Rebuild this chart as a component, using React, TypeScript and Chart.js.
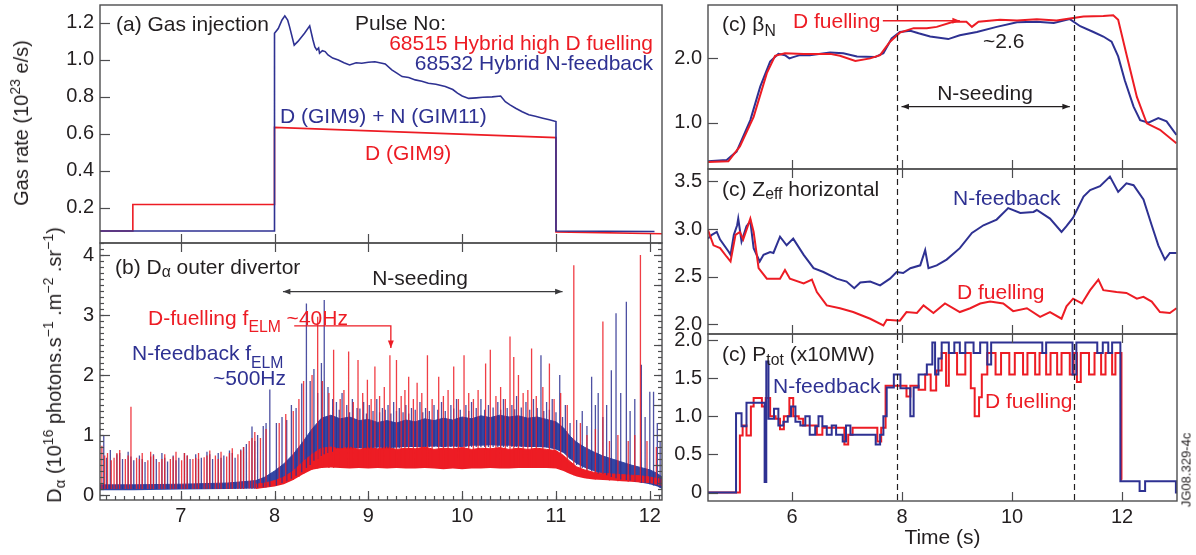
import React, { useEffect, useRef } from "react";
import { Chart, registerables } from "chart.js";
Chart.register(...registerables);

const RED = "#ED1C24";
const BLUE = "#2E3192";
const BAND_BLUE = "#3446A4";
const INK = "#231F20";
const FRAME = "#4D4D4F";
const FONT = "'Liberation Sans', Arial, Helvetica, sans-serif";

type Pt = [number, number];
type Tri = [number, number, number];

// ================= (a) Gas injection =================
const leftXTicks = [7, 8, 9, 10, 11, 12];
const gasYTicks = [0.2, 0.4, 0.6, 0.8, 1.0, 1.2];
const gasD: Pt[] = [
  [6.14, 0.075], [6.49, 0.075], [6.49, 0.218], [8.0, 0.218], [8.0, 0.635],
  [11.0, 0.58], [11.0, 0.07], [12.13, 0.06],
];
const gasN: Pt[] = [
  [6.14, 0.075], [8.0, 0.075], [8.0, 1.144], [8.04, 1.17], [8.08, 1.216], [8.11, 1.238],
  [8.14, 1.216], [8.16, 1.18], [8.21, 1.08], [8.25, 1.1], [8.32, 1.144], [8.375, 1.184],
  [8.41, 1.108], [8.43, 1.07], [8.45, 1.054], [8.47, 1.065], [8.48, 1.036], [8.51, 1.05],
  [8.54, 1.045], [8.57, 1.027], [8.62, 1.01], [8.68, 1.0], [8.74, 0.985], [8.8, 0.973],
  [8.87, 0.985], [8.93, 0.982], [9.0, 0.987], [9.07, 0.99], [9.12, 0.985], [9.18, 0.978],
  [9.25, 0.946], [9.3, 0.93], [9.36, 0.91], [9.43, 0.905], [9.5, 0.892], [9.57, 0.885],
  [9.64, 0.874], [9.72, 0.868], [9.82, 0.856], [9.9, 0.84], [9.95, 0.82], [10.0, 0.805],
  [10.07, 0.792], [10.15, 0.795], [10.22, 0.798], [10.32, 0.8], [10.41, 0.805],
  [10.46, 0.774], [10.51, 0.757], [10.57, 0.739], [10.64, 0.72], [10.71, 0.703],
  [10.78, 0.695], [10.86, 0.685], [10.93, 0.676], [11.0, 0.667], [11.0, 0.075], [12.05, 0.072],
];

// ================= (b) D-alpha outer divertor =================
const dAlphaYTicks = [0, 1, 2, 3, 4];
const blueBand: Tri[] = [
  [6.14, 0.08, 0.17], [6.5, 0.08, 0.17], [7.0, 0.09, 0.18], [7.5, 0.1, 0.2], [7.8, 0.11, 0.24],
  [7.9, 0.13, 0.3], [8.0, 0.16, 0.4], [8.1, 0.21, 0.52], [8.2, 0.3, 0.68], [8.3, 0.42, 0.88],
  [8.4, 0.55, 1.1], [8.5, 0.66, 1.28], [8.6, 0.72, 1.33], [8.7, 0.76, 1.27], [8.8, 0.77, 1.3],
  [8.9, 0.78, 1.24], [9.0, 0.78, 1.26], [9.1, 0.79, 1.21], [9.2, 0.78, 1.24], [9.3, 0.79, 1.2],
  [9.4, 0.8, 1.25], [9.5, 0.8, 1.22], [9.6, 0.8, 1.27], [9.7, 0.81, 1.24], [9.8, 0.8, 1.28],
  [9.9, 0.81, 1.25], [10.0, 0.8, 1.3], [10.1, 0.82, 1.27], [10.2, 0.82, 1.32], [10.3, 0.83, 1.29],
  [10.4, 0.82, 1.33], [10.5, 0.82, 1.3], [10.6, 0.81, 1.32], [10.7, 0.8, 1.28], [10.8, 0.8, 1.3],
  [10.9, 0.79, 1.26], [11.0, 0.76, 1.22], [11.08, 0.7, 1.12], [11.15, 0.6, 0.98],
  [11.22, 0.52, 0.88], [11.3, 0.46, 0.8], [11.4, 0.4, 0.72], [11.5, 0.35, 0.65], [11.6, 0.3, 0.6],
  [11.7, 0.27, 0.55], [11.8, 0.24, 0.5], [11.9, 0.21, 0.46], [12.0, 0.18, 0.42],
  [12.08, 0.14, 0.36], [12.13, 0.1, 0.3],
];
const redBand: Tri[] = [
  [7.8, 0.1, 0.18], [7.9, 0.12, 0.2], [8.0, 0.14, 0.24], [8.1, 0.18, 0.3], [8.2, 0.25, 0.4],
  [8.3, 0.34, 0.55], [8.4, 0.42, 0.68], [8.5, 0.45, 0.78], [8.6, 0.46, 0.8], [8.7, 0.45, 0.77],
  [8.8, 0.44, 0.8], [8.9, 0.45, 0.76], [9.0, 0.44, 0.79], [9.1, 0.45, 0.77], [9.2, 0.44, 0.8],
  [9.3, 0.45, 0.76], [9.4, 0.44, 0.78], [9.5, 0.44, 0.77], [9.6, 0.45, 0.8], [9.7, 0.44, 0.76],
  [9.8, 0.43, 0.78], [9.9, 0.44, 0.77], [10.0, 0.43, 0.79], [10.1, 0.44, 0.76], [10.2, 0.44, 0.78],
  [10.3, 0.45, 0.77], [10.4, 0.44, 0.79], [10.5, 0.44, 0.76], [10.6, 0.45, 0.78], [10.7, 0.45, 0.76],
  [10.8, 0.45, 0.78], [10.9, 0.45, 0.76], [11.0, 0.44, 0.74], [11.08, 0.4, 0.66],
  [11.15, 0.35, 0.56], [11.22, 0.31, 0.47], [11.3, 0.28, 0.42], [11.4, 0.26, 0.38],
  [11.5, 0.25, 0.36], [11.6, 0.24, 0.35], [11.7, 0.23, 0.34], [11.8, 0.22, 0.33],
  [11.9, 0.21, 0.32], [12.0, 0.2, 0.3], [12.13, 0.15, 0.26],
];
const redSpikes: Tri[] = [
  [6.16, 0.1, 0.82], [6.19, 0.1, 0.66], [6.22, 0.1, 0.7], [6.26, 0.1, 0.58], [6.29, 0.1, 0.62],
  [6.32, 0.1, 0.7], [6.35, 0.1, 0.75], [6.41, 0.1, 0.6], [6.44, 0.1, 0.66], [6.47, 0.1, 1.47],
  [6.53, 0.1, 0.62], [6.56, 0.1, 0.6], [6.59, 0.1, 0.7], [6.65, 0.1, 0.58], [6.68, 0.1, 0.72],
  [6.71, 0.1, 0.66], [6.77, 0.1, 0.55], [6.8, 0.1, 0.6], [6.83, 0.1, 0.68], [6.89, 0.1, 0.6],
  [6.92, 0.1, 0.64], [6.95, 0.1, 0.72], [7.01, 0.1, 0.58], [7.04, 0.1, 0.7], [7.07, 0.1, 0.66],
  [7.13, 0.1, 0.6], [7.16, 0.1, 0.62], [7.19, 0.1, 0.7], [7.25, 0.1, 0.63], [7.28, 0.1, 0.66],
  [7.31, 0.1, 0.74], [7.37, 0.1, 0.66], [7.4, 0.1, 0.6], [7.43, 0.1, 0.72], [7.49, 0.1, 0.64],
  [7.52, 0.1, 0.7], [7.55, 0.1, 0.78], [7.61, 0.1, 0.68], [7.64, 0.1, 0.74], [7.67, 0.1, 0.8],
  [7.73, 0.11, 0.9], [7.76, 0.11, 0.95], [7.79, 0.11, 1.05], [7.85, 0.12, 0.95], [7.91, 0.13, 1.1],
  [8.05, 0.17, 1.2], [8.12, 0.2, 1.35], [8.2, 0.25, 1.4], [8.26, 0.3, 1.6], [8.31, 0.35, 1.9],
  [8.4, 0.42, 2.0], [8.46, 0.44, 2.97], [8.51, 0.45, 1.9], [8.58, 0.45, 1.7],
  [8.63, 0.45, 2.42], [8.7, 0.45, 1.6], [8.74, 0.45, 1.75], [8.79, 0.45, 2.39], [8.84, 0.45, 1.55],
  [8.89, 0.45, 2.25], [8.94, 0.45, 1.7], [8.99, 0.45, 1.92], [9.03, 0.45, 1.6], [9.07, 0.45, 2.14],
  [9.12, 0.45, 1.65], [9.17, 0.45, 1.8], [9.23, 0.45, 2.33], [9.3, 0.45, 2.25], [9.35, 0.45, 1.65],
  [9.39, 0.45, 1.75], [9.43, 0.45, 1.97], [9.48, 0.45, 1.6], [9.52, 0.45, 1.87], [9.57, 0.45, 1.7],
  [9.63, 0.45, 2.33], [9.68, 0.45, 1.6], [9.75, 0.45, 1.97], [9.8, 0.45, 1.65], [9.85, 0.45, 1.75],
  [9.91, 0.45, 2.14], [9.96, 0.45, 1.6], [10.02, 0.45, 2.33], [10.07, 0.45, 1.7], [10.12, 0.45, 1.6],
  [10.17, 0.45, 1.75], [10.25, 0.45, 2.19], [10.3, 0.45, 2.42], [10.36, 0.45, 1.65],
  [10.41, 0.45, 1.8], [10.46, 0.45, 1.6], [10.51, 0.45, 2.64], [10.55, 0.45, 2.3], [10.6, 0.45, 2.0],
  [10.65, 0.45, 1.7], [10.7, 0.45, 1.75], [10.74, 0.45, 2.44], [10.79, 0.45, 1.65],
  [10.86, 0.45, 1.8], [10.93, 0.45, 2.19], [10.98, 0.45, 1.6], [11.05, 0.42, 1.7],
  [11.12, 0.38, 1.5], [11.19, 0.33, 3.83], [11.26, 0.3, 1.2], [11.33, 0.28, 1.0],
  [11.42, 0.26, 1.1], [11.5, 0.25, 2.89], [11.57, 0.24, 0.9], [11.66, 0.23, 1.0],
  [11.77, 0.22, 0.9], [11.84, 0.22, 1.0], [11.9, 0.21, 4.0], [11.97, 0.2, 0.9], [12.07, 0.18, 0.8],
];
const blueSpikes: Tri[] = [
  [6.18, 0.1, 1.0], [6.21, 0.1, 0.62], [6.25, 0.1, 0.75], [6.32, 0.1, 0.68], [6.35, 0.1, 0.7],
  [6.38, 0.1, 0.6], [6.44, 0.1, 0.72], [6.47, 0.1, 0.64], [6.5, 0.1, 0.58], [6.56, 0.1, 0.66],
  [6.59, 0.1, 0.6], [6.62, 0.1, 0.55], [6.68, 0.1, 0.64], [6.71, 0.1, 0.68], [6.74, 0.1, 0.6],
  [6.8, 0.1, 0.7], [6.83, 0.1, 0.62], [6.86, 0.1, 0.56], [6.92, 0.1, 0.66], [6.95, 0.1, 0.58],
  [6.98, 0.1, 0.62], [7.04, 0.1, 0.7], [7.07, 0.1, 0.66], [7.1, 0.1, 0.6], [7.16, 0.1, 0.68],
  [7.19, 0.1, 0.6], [7.22, 0.1, 0.62], [7.28, 0.1, 0.72], [7.31, 0.1, 0.68], [7.34, 0.1, 0.6],
  [7.4, 0.1, 0.7], [7.43, 0.1, 0.62], [7.46, 0.1, 0.66], [7.52, 0.1, 0.74], [7.55, 0.1, 0.7],
  [7.58, 0.1, 0.62], [7.64, 0.1, 0.76], [7.67, 0.1, 0.8], [7.7, 0.11, 0.85], [7.76, 0.11, 1.14],
  [7.79, 0.11, 0.9], [7.82, 0.12, 1.0], [7.88, 0.13, 1.15], [7.91, 0.13, 1.2], [7.95, 0.14, 1.76],
  [8.02, 0.16, 1.2], [8.08, 0.2, 1.3], [8.13, 0.23, 1.25], [8.18, 0.27, 1.5], [8.23, 0.32, 1.45],
  [8.29, 0.38, 1.86], [8.34, 0.45, 3.19], [8.38, 0.5, 1.9], [8.42, 0.57, 2.1], [8.46, 0.6, 1.7],
  [8.5, 0.65, 2.2], [8.53, 0.68, 3.25], [8.57, 0.7, 1.8], [8.62, 0.72, 1.6],
  [8.66, 0.78, 1.55], [8.69, 0.78, 1.42], [8.72, 0.78, 1.7], [8.77, 0.78, 1.5], [8.8, 0.78, 1.38],
  [8.83, 0.78, 1.6], [8.88, 0.78, 1.45], [8.91, 0.78, 1.44], [8.95, 0.78, 1.55], [8.98, 0.78, 1.36],
  [9.01, 0.78, 1.5], [9.05, 0.78, 1.4], [9.09, 0.78, 1.6], [9.12, 0.78, 1.38], [9.15, 0.78, 1.45],
  [9.18, 0.78, 1.42], [9.21, 0.78, 1.5], [9.24, 0.78, 1.36], [9.27, 0.78, 1.55], [9.3, 0.78, 1.4],
  [9.33, 0.78, 1.45], [9.37, 0.8, 1.38], [9.4, 0.8, 1.5], [9.43, 0.8, 1.36], [9.46, 0.8, 1.45],
  [9.5, 0.8, 1.42], [9.55, 0.8, 1.55], [9.58, 0.8, 1.38], [9.61, 0.8, 1.45], [9.65, 0.8, 1.4],
  [9.7, 0.8, 1.5], [9.74, 0.8, 1.42], [9.78, 0.8, 1.55], [9.82, 0.8, 1.4], [9.88, 0.8, 1.5],
  [9.91, 0.8, 1.44], [9.94, 0.8, 1.6], [9.98, 0.8, 1.42], [10.04, 0.8, 1.5], [10.07, 0.8, 1.4],
  [10.1, 0.8, 1.55], [10.15, 0.8, 1.45], [10.2, 0.8, 1.6], [10.24, 0.8, 1.42], [10.28, 0.8, 1.5],
  [10.33, 0.8, 1.46], [10.38, 0.8, 1.55], [10.41, 0.8, 1.42], [10.44, 0.8, 1.6], [10.48, 0.8, 1.45],
  [10.53, 0.8, 1.5], [10.56, 0.8, 1.43], [10.58, 0.8, 1.65], [10.63, 0.8, 1.46], [10.68, 0.8, 1.55],
  [10.72, 0.8, 1.42], [10.76, 0.8, 1.6], [10.8, 0.8, 1.45], [10.84, 0.8, 2.33], [10.87, 0.8, 1.4],
  [10.9, 0.79, 1.55], [10.93, 0.78, 1.42], [10.96, 0.78, 1.6], [11.0, 0.76, 1.38],
  [11.04, 0.74, 2.0], [11.07, 0.72, 1.3], [11.1, 0.7, 1.5],
  [11.15, 0.6, 1.2], [11.22, 0.5, 1.25], [11.28, 0.45, 1.4], [11.33, 0.42, 1.15],
  [11.38, 0.4, 1.97], [11.42, 0.38, 1.5], [11.45, 0.36, 1.7], [11.5, 0.35, 1.3], [11.54, 0.33, 1.5],
  [11.59, 0.3, 2.08], [11.64, 0.28, 3.03], [11.69, 0.26, 1.7], [11.75, 0.25, 3.22],
  [11.79, 0.24, 1.4], [11.84, 0.22, 1.6], [11.91, 0.2, 2.17], [11.95, 0.2, 1.3],
  [12.0, 0.18, 1.72], [12.04, 0.16, 1.72], [12.08, 0.15, 1.2], [12.11, 0.12, 0.9],
];
const bSeedArrow: Pt[] = [[8.09, 3.39], [11.07, 3.39]];
const elmArrow: Pt[] = [[8.21, 2.82], [9.24, 2.82], [9.24, 2.45]];

// ================= (c) right column =================
const rightXTicks = [6, 8, 10, 12];
const seedingMarks = [7.9, 11.13];
const betaYTicks = [1.0, 2.0];
const betaN_N: Pt[] = [
  [4.47, 0.4], [4.81, 0.42], [4.99, 0.55], [5.24, 1.04], [5.42, 1.56], [5.6, 1.95], [5.75, 2.07],
  [5.87, 2.05], [5.95, 2.0], [6.02, 2.02], [6.14, 2.05], [6.32, 2.05], [6.69, 2.09], [6.93, 2.08],
  [7.18, 2.03], [7.51, 2.02], [7.66, 2.08], [7.81, 2.31], [7.96, 2.41], [8.15, 2.43], [8.3, 2.39],
  [8.51, 2.34], [8.84, 2.3], [9.05, 2.36], [9.36, 2.41], [9.72, 2.49], [10.09, 2.56], [10.45, 2.57],
  [10.76, 2.55], [11.05, 2.61], [11.24, 2.5], [11.48, 2.41], [11.66, 2.34], [11.81, 2.26],
  [11.93, 2.03], [12.05, 1.66], [12.21, 1.25], [12.33, 1.04], [12.48, 1.0], [12.66, 1.07],
  [12.81, 1.02], [12.99, 0.81],
];
const betaN_D: Pt[] = [
  [4.47, 0.39], [4.84, 0.4], [5.05, 0.63], [5.3, 1.09], [5.54, 1.77], [5.69, 2.04], [5.87, 2.08],
  [6.21, 2.07], [6.69, 2.07], [6.87, 2.04], [7.15, 1.96], [7.42, 2.0], [7.6, 2.05], [7.78, 2.26],
  [7.96, 2.4], [8.21, 2.47], [8.45, 2.47], [8.63, 2.49], [8.93, 2.57], [9.17, 2.57], [9.27, 2.49],
  [9.39, 2.57], [9.78, 2.6], [10.09, 2.59], [10.45, 2.61], [10.81, 2.59], [11.05, 2.62],
  [11.3, 2.65], [11.66, 2.66], [11.84, 2.67], [11.93, 2.6], [12.09, 2.03], [12.27, 1.4],
  [12.45, 0.99], [12.69, 0.89], [12.99, 0.68],
];
const betaDArrow: Pt[] = [[7.65, 2.585], [9.05, 2.585]];
const betaSeedArrow: Pt[] = [[7.99, 1.25], [11.05, 1.25]];

const zeffYTicks = [2.0, 2.5, 3.0, 3.5];
const zeff_N: Pt[] = [
  [4.47, 2.9], [4.54, 2.94], [4.63, 2.97], [4.69, 2.89], [4.85, 2.76], [4.88, 2.73], [4.94, 2.94],
  [5.0, 3.04], [5.02, 3.11], [5.08, 2.87], [5.17, 3.03], [5.24, 3.08], [5.3, 2.8], [5.41, 2.66],
  [5.48, 2.73], [5.6, 2.76], [5.66, 2.75], [5.78, 2.92], [5.9, 2.83], [6.02, 2.9], [6.21, 2.73],
  [6.39, 2.59], [6.57, 2.55], [6.81, 2.48], [6.99, 2.45], [7.13, 2.38], [7.24, 2.44], [7.42, 2.45],
  [7.6, 2.41], [7.78, 2.48], [7.9, 2.55], [8.02, 2.54], [8.15, 2.59], [8.33, 2.62], [8.42, 2.78],
  [8.48, 2.59], [8.63, 2.62], [8.81, 2.68], [9.05, 2.8], [9.27, 2.96], [9.48, 3.04], [9.72, 3.1],
  [9.93, 3.22], [10.15, 3.17], [10.39, 3.18], [10.45, 3.2], [10.69, 3.11], [10.9, 2.97],
  [10.99, 3.03], [11.11, 3.12], [11.3, 3.34], [11.42, 3.41], [11.6, 3.45], [11.78, 3.55],
  [11.93, 3.39], [12.08, 3.48], [12.21, 3.46], [12.39, 3.31], [12.54, 3.04], [12.66, 2.83],
  [12.78, 2.68], [12.87, 2.75], [12.99, 2.75],
];
const zeff_D: Pt[] = [
  [4.47, 2.99], [4.57, 2.83], [4.69, 2.8], [4.81, 2.71], [4.88, 2.66], [4.97, 2.94], [5.05, 2.97],
  [5.11, 2.89], [5.24, 3.11], [5.3, 2.97], [5.39, 2.59], [5.54, 2.48], [5.78, 2.48], [5.87, 2.57],
  [5.96, 2.48], [6.21, 2.43], [6.36, 2.47], [6.45, 2.34], [6.63, 2.2], [6.87, 2.17], [7.11, 2.13],
  [7.42, 2.06], [7.66, 1.99], [7.72, 2.05], [7.96, 2.04], [8.08, 2.13], [8.27, 2.12], [8.39, 2.2],
  [8.57, 2.12], [8.78, 2.22], [9.05, 2.13], [9.24, 2.17], [9.42, 2.22], [9.6, 2.24], [9.84, 2.22],
  [10.02, 2.14], [10.27, 2.17], [10.51, 2.08], [10.69, 2.13], [10.9, 2.06], [10.99, 2.19],
  [11.11, 2.27], [11.27, 2.22], [11.42, 2.36], [11.57, 2.47], [11.66, 2.36], [11.9, 2.34],
  [12.08, 2.33], [12.27, 2.27], [12.39, 2.29], [12.54, 2.24], [12.69, 2.13], [12.87, 2.12],
  [12.99, 2.17],
];

const ptotYTicks = [0, 0.5, 1.0, 1.5, 2.0];
const ptot_N: Pt[] = [
  [4.47, 0], [4.98, 1.04], [5.08, 0.87], [5.17, 1.18], [5.5, 0.14], [5.53, 1.72], [5.57, 0.97],
  [5.67, 1.1], [5.75, 0.88], [5.84, 0.93], [5.92, 1.0], [5.98, 1.13], [6.06, 0.93], [6.15, 0.88],
  [6.24, 1.0], [6.32, 0.76], [6.42, 0.87], [6.48, 1.0], [6.55, 0.87], [6.63, 0.76], [6.72, 0.88],
  [6.8, 0.76], [6.92, 0.67], [6.98, 0.88], [7.06, 0.76], [7.52, 0.63], [7.6, 0.76], [7.66, 1.0],
  [7.72, 1.38], [7.85, 1.55], [7.97, 1.37], [8.15, 1.0], [8.21, 1.38], [8.3, 1.55], [8.45, 1.68],
  [8.55, 1.97], [8.6, 1.55], [8.66, 1.76], [8.72, 1.97], [8.85, 1.83], [8.95, 1.97], [9.05, 1.83],
  [9.15, 1.97], [9.3, 1.83], [9.42, 1.97], [9.55, 1.68], [9.62, 1.97], [10.55, 1.83], [10.62, 1.97],
  [11.1, 1.55], [11.17, 1.97], [11.55, 1.83], [11.65, 1.97], [11.75, 1.83], [11.82, 1.97],
  [11.97, 0.15], [12.32, 0.02], [12.42, 0.15], [12.98, 0.0], [13.0, 0.0],
];
const ptot_D: Pt[] = [
  [4.47, 0], [5.05, 0.75], [5.1, 0.88], [5.17, 0.75], [5.25, 1.13], [5.3, 1.24], [5.45, 1.13],
  [5.52, 1.24], [5.6, 1.0], [5.7, 0.97], [5.78, 0.83], [5.85, 1.0], [5.95, 1.24], [6.02, 1.0],
  [6.12, 0.97], [6.2, 0.88], [6.45, 0.76], [6.55, 0.85], [6.95, 0.63], [7.02, 0.76], [7.1, 0.85],
  [7.55, 0.67], [7.62, 0.85], [7.7, 1.4], [8.08, 1.26], [8.15, 1.4], [8.3, 1.35], [8.42, 1.55],
  [8.52, 1.34], [8.62, 1.6], [8.72, 1.83], [8.8, 1.4], [8.85, 1.83], [9.0, 1.55], [9.15, 1.83],
  [9.25, 1.37], [9.32, 1.0], [9.4, 1.25], [9.45, 1.55], [9.55, 1.83], [9.7, 1.55], [9.8, 1.83],
  [9.95, 1.55], [10.05, 1.83], [10.2, 1.55], [10.28, 1.83], [10.42, 1.55], [10.5, 1.83],
  [10.62, 1.55], [10.7, 1.83], [10.82, 1.55], [10.9, 1.83], [11.05, 1.55], [11.12, 1.83],
  [11.18, 1.45], [11.25, 1.83], [11.4, 1.55], [11.5, 1.83], [11.62, 1.55], [11.7, 1.83],
  [11.82, 1.55], [11.88, 1.83], [11.99, 0.17], [12.0, 0.17],
];

// ================= helpers =================
const toXY = (a: Pt[]) => a.map(([x, y]) => ({ x, y }));

function lineDs(pts: Pt[], color: string, width: number, order: number, extra: any = {}) {
  return {
    data: toXY(pts), borderColor: color, borderWidth: width, pointRadius: 0,
    fill: false, order, tension: 0, ...extra,
  };
}
function bandDs(band: Tri[], color: string, order: number) {
  return [
    { data: band.map(([x, lo]) => ({ x, y: lo })), borderWidth: 0, borderColor: color, pointRadius: 0, fill: false, order, tension: 0 },
    { data: band.map(([x, , hi]) => ({ x, y: hi })), borderWidth: 1, borderColor: color, backgroundColor: color, pointRadius: 0, fill: "-1", order, tension: 0 },
  ];
}
function spikeDs(sp: Tri[], color: string, order: number) {
  const data: any[] = [];
  sp.forEach(([x, lo, hi]) => { data.push({ x, y: lo }, { x, y: hi }, { x, y: null }); });
  return { data, borderColor: color, borderWidth: 1.3, pointRadius: 0, fill: false, order, spanGaps: false, tension: 0 };
}

interface Arrow { pts: Pt[]; color: string; start: boolean; end: boolean }
interface Decor {
  left?: number[]; leftMinor?: number[]; right?: number[]; rightMinor?: number[];
  top?: number[]; bottom?: number[]; bottomMinor?: number[];
  vlines?: number[]; arrows?: Arrow[];
}

function range(a: number, b: number, s: number) {
  const out: number[] = [];
  for (let i = 0; a + i * s <= b + 1e-9; i++) out.push(+(a + i * s).toFixed(3));
  return out;
}

function makeDecor(d: Decor) {
  return {
    id: "panelDecor",
    afterDatasetsDraw(chart: any) {
      const { ctx, chartArea: a, scales } = chart;
      const xs = scales.x, ys = scales.y;
      ctx.save();
      if (d.vlines) {
        ctx.setLineDash([6, 4]);
        ctx.strokeStyle = INK;
        ctx.lineWidth = 1.2;
        d.vlines.forEach((v) => {
          const px = Math.round(xs.getPixelForValue(v)) + 0.5;
          ctx.beginPath(); ctx.moveTo(px, a.top); ctx.lineTo(px, a.bottom); ctx.stroke();
        });
        ctx.setLineDash([]);
      }
      ctx.strokeStyle = FRAME;
      ctx.lineWidth = 1.2;
      const hTicks = (vals: number[] | undefined, len: number, side: "l" | "r") => {
        (vals || []).forEach((v) => {
          const py = Math.round(ys.getPixelForValue(v)) + 0.5;
          if (py < a.top - 1 || py > a.bottom + 1) return;
          ctx.beginPath();
          if (side === "l") { ctx.moveTo(a.left, py); ctx.lineTo(a.left + len, py); }
          else { ctx.moveTo(a.right, py); ctx.lineTo(a.right - len, py); }
          ctx.stroke();
        });
      };
      const vTicks = (vals: number[] | undefined, len: number, side: "t" | "b") => {
        (vals || []).forEach((v) => {
          const px = Math.round(xs.getPixelForValue(v)) + 0.5;
          if (px < a.left - 1 || px > a.right + 1) return;
          ctx.beginPath();
          if (side === "t") { ctx.moveTo(px, a.top); ctx.lineTo(px, a.top + len); }
          else { ctx.moveTo(px, a.bottom); ctx.lineTo(px, a.bottom - len); }
          ctx.stroke();
        });
      };
      hTicks(d.left, 10, "l");
      hTicks(d.leftMinor, 4, "l");
      hTicks(d.right, 8, "r");
      hTicks(d.rightMinor, 4, "r");
      vTicks(d.top, 9, "t");
      vTicks(d.bottom, 9, "b");
      vTicks(d.bottomMinor, 4, "b");
      (d.arrows || []).forEach((ar) => {
        const P = ar.pts.map(([x, y]) => [xs.getPixelForValue(x), ys.getPixelForValue(y)]);
        ctx.strokeStyle = ar.color; ctx.fillStyle = ar.color; ctx.lineWidth = 1.3;
        ctx.beginPath();
        P.forEach(([x, y], i) => (i ? ctx.lineTo(x, y) : ctx.moveTo(x, y)));
        ctx.stroke();
        const head = (x: number, y: number, fx: number, fy: number) => {
          const ang = Math.atan2(y - fy, x - fx), s = 8;
          ctx.beginPath(); ctx.moveTo(x, y);
          ctx.lineTo(x - s * Math.cos(ang - 0.38), y - s * Math.sin(ang - 0.38));
          ctx.lineTo(x - s * Math.cos(ang + 0.38), y - s * Math.sin(ang + 0.38));
          ctx.closePath(); ctx.fill();
        };
        const n = P.length;
        if (ar.end) head(P[n - 1][0], P[n - 1][1], P[n - 2][0], P[n - 2][1]);
        if (ar.start) head(P[0][0], P[0][1], P[1][0], P[1][1]);
      });
      ctx.strokeStyle = FRAME;
      ctx.lineWidth = 1.4;
      ctx.strokeRect(a.left, a.top, a.right - a.left, a.bottom - a.top);
      ctx.restore();
    },
  };
}

interface PanelCfg {
  xMin: number; xMax: number; yMin: number; yMax: number;
  xTicks: number[]; yTicks: number[]; yFmt: (v: number) => string;
  xLabels: boolean; xTitle?: string;
  padTop: number; padRight: number; yWidth: number; xHeight: number;
  datasets: any[]; decor: Decor;
}

function panelConfig(p: PanelCfg): any {
  return {
    type: "line",
    data: { datasets: p.datasets },
    options: {
      animation: false, responsive: false, maintainAspectRatio: false, events: [],
      layout: { padding: { top: p.padTop, right: p.padRight, bottom: 0, left: 0 } },
      plugins: { legend: { display: false }, tooltip: { enabled: false }, title: { display: false } },
      scales: {
        x: {
          type: "linear", min: p.xMin, max: p.xMax, offset: false,
          grid: { display: false, drawTicks: false }, border: { display: false },
          ticks: {
            display: p.xLabels, color: INK, font: { family: FONT, size: 20 }, padding: 4,
            maxRotation: 0, autoSkip: false, callback: (v: number) => String(v),
          },
          title: p.xTitle
            ? { display: true, text: p.xTitle, color: INK, font: { family: FONT, size: 21 }, padding: { top: 0, bottom: 4 } }
            : { display: false },
          afterBuildTicks: (s: any) => { s.ticks = p.xTicks.map((v) => ({ value: v })); },
          afterFit: (s: any) => { s.height = p.xHeight; s.paddingLeft = 0; s.paddingRight = 0; },
        },
        y: {
          type: "linear", min: p.yMin, max: p.yMax,
          grid: { display: false, drawTicks: false }, border: { display: false },
          ticks: { color: INK, font: { family: FONT, size: 20 }, padding: 6, autoSkip: false, callback: (v: number) => p.yFmt(v) },
          afterBuildTicks: (s: any) => { s.ticks = p.yTicks.map((v) => ({ value: v })); },
          afterFit: (s: any) => { s.width = p.yWidth; s.paddingTop = 0; s.paddingBottom = 0; },
        },
      },
    },
    plugins: [makeDecor(p.decor)],
  };
}

const fmt1 = (v: number) => v.toFixed(1);
const fmtP = (v: number) => (v === 0 ? "0" : v.toFixed(1));
const fmt0 = (v: number) => String(Math.round(v));

const panels: { left: number; top: number; w: number; h: number; cfg: () => PanelCfg }[] = [
  {
    left: 0, top: 0, w: 670, h: 250,
    cfg: () => ({
      xMin: 6.14, xMax: 12.13, yMin: 0.01, yMax: 1.297, xTicks: leftXTicks, yTicks: gasYTicks,
      yFmt: fmt1, xLabels: false, padTop: 5, padRight: 8, yWidth: 100, xHeight: 7,
      datasets: [lineDs(gasN, BLUE, 1.6, 1), lineDs(gasD, RED, 1.6, 2)],
      decor: { left: gasYTicks, bottom: leftXTicks },
    }),
  },
  {
    left: 0, top: 235, w: 670, h: 320,
    cfg: () => ({
      xMin: 6.14, xMax: 12.13, yMin: -0.083, yMax: 4.2, xTicks: leftXTicks, yTicks: dAlphaYTicks,
      yFmt: fmt0, xLabels: true, padTop: 8, padRight: 8, yWidth: 100, xHeight: 55,
      datasets: [
        ...bandDs(blueBand, BAND_BLUE, 40),
        ...bandDs(redBand, RED, 30),
        spikeDs(blueSpikes, "rgba(46,49,146,0.85)", 20),
        spikeDs(redSpikes, "rgba(237,28,36,0.85)", 10),
      ],
      decor: {
        left: dAlphaYTicks, leftMinor: range(0, 4.2, 0.1), right: range(0, 4.2, 0.5),
        rightMinor: range(0, 4.2, 0.1), top: leftXTicks, bottom: leftXTicks,
        bottomMinor: range(6.2, 12.1, 0.1),
        arrows: [
          { pts: bSeedArrow, color: "#3A3A3C", start: true, end: true },
          { pts: elmArrow, color: RED, start: false, end: true },
        ],
      },
    }),
  },
  {
    left: 600, top: 0, w: 596, h: 175,
    cfg: () => ({
      xMin: 4.47, xMax: 13.0, yMin: 0.28, yMax: 2.83, xTicks: rightXTicks, yTicks: betaYTicks,
      yFmt: fmt1, xLabels: false, padTop: 5, padRight: 19, yWidth: 108, xHeight: 6,
      datasets: [lineDs(betaN_D, RED, 2, 1), lineDs(betaN_N, BLUE, 2, 2)],
      decor: {
        left: betaYTicks, bottom: rightXTicks, vlines: seedingMarks,
        arrows: [
          { pts: betaDArrow, color: RED, start: false, end: true },
          { pts: betaSeedArrow, color: INK, start: true, end: true },
        ],
      },
    }),
  },
  {
    left: 600, top: 165, w: 596, h: 175,
    cfg: () => ({
      xMin: 4.47, xMax: 13.0, yMin: 1.9, yMax: 3.63, xTicks: rightXTicks, yTicks: zeffYTicks,
      yFmt: fmt1, xLabels: false, padTop: 4, padRight: 19, yWidth: 108, xHeight: 6,
      datasets: [lineDs(zeff_D, RED, 2, 1), lineDs(zeff_N, BLUE, 2, 2)],
      decor: { left: zeffYTicks, top: rightXTicks, bottom: rightXTicks, vlines: seedingMarks },
    }),
  },
  {
    left: 600, top: 330, w: 596, h: 225,
    cfg: () => ({
      xMin: 4.47, xMax: 13.0, yMin: -0.11, yMax: 2.08, xTicks: rightXTicks, yTicks: ptotYTicks,
      yFmt: fmtP, xLabels: true, xTitle: "Time (s)", padTop: 4, padRight: 19, yWidth: 108, xHeight: 54,
      datasets: [
        lineDs(ptot_N, BLUE, 2, 1, { stepped: true }),
        lineDs(ptot_D, RED, 2, 2, { stepped: true }),
      ],
      decor: { left: ptotYTicks, top: rightXTicks, bottom: rightXTicks, vlines: seedingMarks },
    }),
  },
];

const Sub = ({ children, dy = 0.3, s = 0.75 }: any) => (
  <span style={{ fontSize: `${s}em`, position: "relative", top: `${dy}em` }}>{children}</span>
);
const Sup = ({ children }: any) => (
  <span style={{ fontSize: "0.7em", position: "relative", top: "-0.55em" }}>{children}</span>
);

function Label({ x, y, c = INK, size = 21, align = "left", children }: any) {
  const style: any = {
    position: "absolute", top: y - size / 2, fontSize: size, lineHeight: `${size}px`, color: c,
    whiteSpace: "nowrap", fontFamily: FONT, pointerEvents: "none",
  };
  if (align === "left") style.left = x;
  else if (align === "right") style.right = 1196 - x;
  else { style.left = x; style.transform = "translateX(-50%)"; }
  return <div style={style}>{children}</div>;
}
function VLabel({ x, y, c = INK, size = 20, children }: any) {
  return (
    <div style={{
      position: "absolute", left: x, top: y, transform: "translate(-50%,-50%) rotate(-90deg)",
      fontSize: size, lineHeight: `${size}px`, color: c, whiteSpace: "nowrap", fontFamily: FONT, pointerEvents: "none",
    }}>{children}</div>
  );
}

export default function App() {
  const refs = useRef<(HTMLCanvasElement | null)[]>([]);
  useEffect(() => {
    const charts = panels.map((p, i) => new Chart(refs.current[i] as HTMLCanvasElement, panelConfig(p.cfg())));
    return () => charts.forEach((c) => c.destroy());
  }, []);
  return (
    <div style={{ position: "absolute", left: 0, top: 0, width: 1196, height: 555, background: "#fff", overflow: "hidden", fontFamily: FONT }}>
      {panels.map((p, i) => (
        <canvas key={i} ref={(el) => { refs.current[i] = el; }} width={p.w} height={p.h}
          style={{ position: "absolute", left: p.left, top: p.top, width: p.w, height: p.h }} />
      ))}
      {/* axis titles */}
      <VLabel x={22} y={123}>Gas rate (10<Sup>23</Sup> e/s)</VLabel>
      <VLabel x={55} y={365}>D<Sub dy={0.25}>α</Sub> (10<Sup>16</Sup> photons.s<Sup>−1</Sup> .m<Sup>−2</Sup> .sr<Sup>−1</Sup>)</VLabel>
      {/* panel (a) */}
      <Label x={116} y={23}>(a) Gas injection</Label>
      <Label x={355} y={22}>Pulse No:</Label>
      <Label x={653} y={42} c={RED} align="right">68515 Hybrid high D fuelling</Label>
      <Label x={653} y={62} c={BLUE} align="right">68532 Hybrid N-feedback</Label>
      <Label x={280} y={115} c={BLUE}>D (GIM9) + N (GIM11)</Label>
      <Label x={365} y={152} c={RED}>D (GIM9)</Label>
      {/* panel (b) */}
      <Label x={115} y={266}>(b) D<Sub dy={0.25}>α</Sub> outer divertor</Label>
      <Label x={420} y={277} align="center">N-seeding</Label>
      <Label x={148} y={317} c={RED}>D-fuelling f<Sub dy={0.45}>ELM</Sub> ~40Hz</Label>
      <Label x={132} y={352} c={BLUE}>N-feedback f<Sub dy={0.55}>ELM</Sub></Label>
      <Label x={286} y={377} c={BLUE} align="right">~500Hz</Label>
      {/* right panels */}
      <Label x={722} y={23}>(c) β<Sub dy={0.35}>N</Sub></Label>
      <Label x={793} y={20} c={RED}>D fuelling</Label>
      <Label x={983} y={40}>~2.6</Label>
      <Label x={985} y={92} align="center">N-seeding</Label>
      <Label x={722} y={188}>(c) Z<Sub dy={0.25}>eff</Sub> horizontal</Label>
      <Label x={953} y={197} c={BLUE}>N-feedback</Label>
      <Label x={957} y={291} c={RED}>D fuelling</Label>
      <Label x={722} y={353}>(c) P<Sub dy={0.3}>tot</Sub> (x10MW)</Label>
      <Label x={773} y={385} c={BLUE}>N-feedback</Label>
      <Label x={985} y={400} c={RED}>D fuelling</Label>
      <VLabel x={1186} y={470} size={13}>JG08.329-4c</VLabel>
    </div>
  );
}
